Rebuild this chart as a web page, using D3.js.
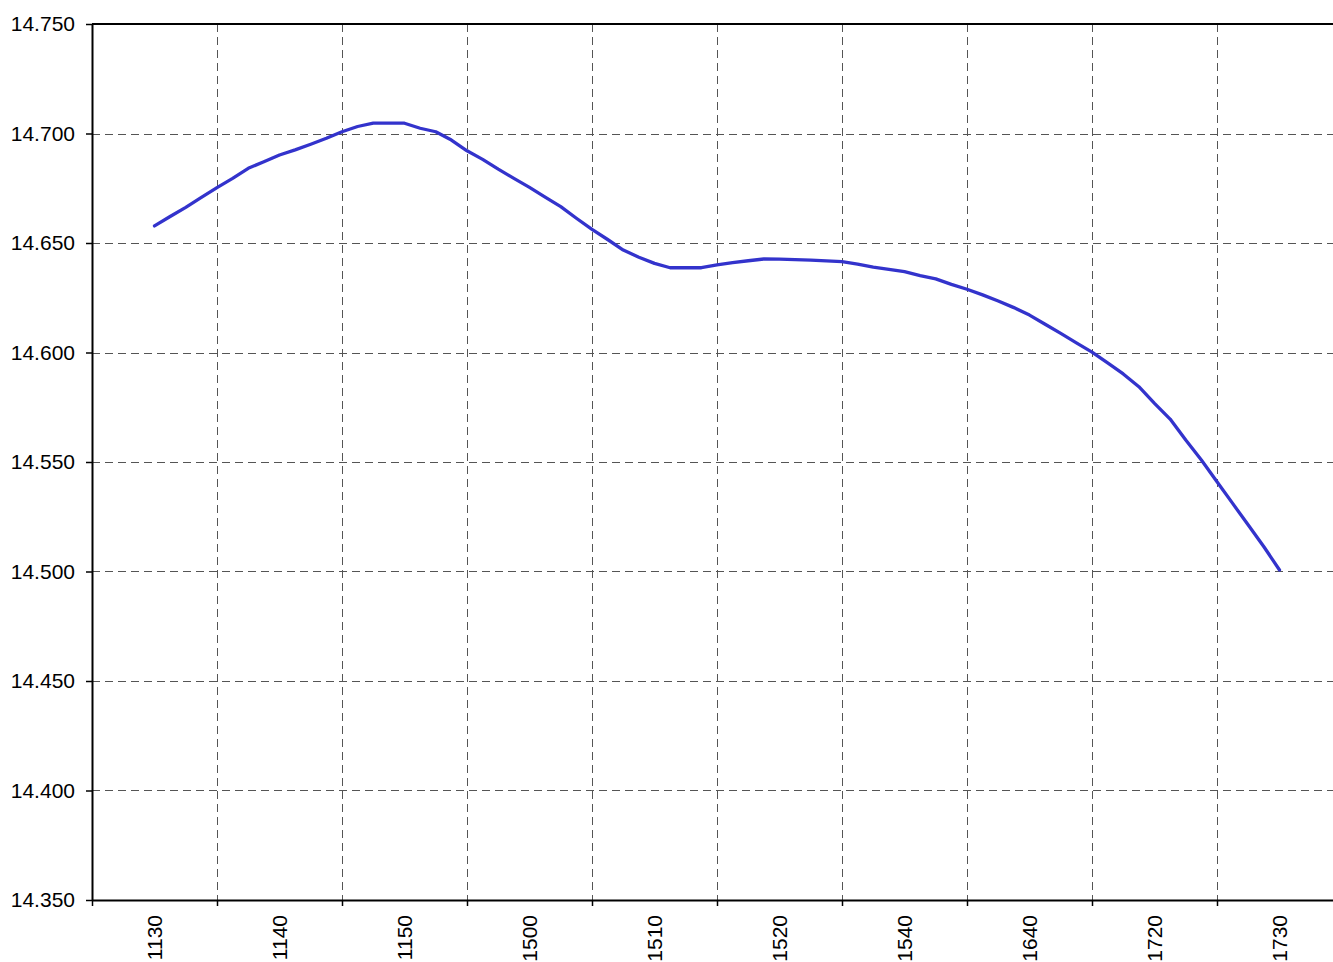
<!DOCTYPE html>
<html>
<head>
<meta charset="utf-8">
<script src="https://cdn.jsdelivr.net/npm/d3@7"></script>
<style>
  body { margin: 0; background: #fff; overflow: hidden; }
  svg text { font-family: "Liberation Sans", Arial, sans-serif; }
</style>
</head>
<body>
<svg id="chart" width="1333" height="962"></svg>
<script>
// ---- data ----
const categories = ["1130", "1140", "1150", "1500", "1510", "1520", "1540", "1640", "1720", "1730"];
const stepsPerCategory = 8; // readings between two category labels
const values = [
  14.6578, 14.6621, 14.6663, 14.6708, 14.6753, 14.6795, 14.6841, 14.6871,
  14.6902, 14.6925, 14.6951, 14.6978, 14.7008, 14.7032, 14.7047, 14.7047,
  14.7047, 14.7024, 14.7008, 14.6970, 14.6921, 14.6882, 14.6837, 14.6795,
  14.6754, 14.6709, 14.6666, 14.6613, 14.6562, 14.6516, 14.6468, 14.6435,
  14.6407, 14.6387, 14.6387, 14.6387, 14.6400, 14.6410, 14.6419, 14.6427,
  14.6426, 14.6424, 14.6422, 14.6418, 14.6415, 14.6404, 14.6390, 14.6380,
  14.6369, 14.6351, 14.6336, 14.6311, 14.6289, 14.6263, 14.6235, 14.6205,
  14.6171, 14.6129, 14.6087, 14.6044, 14.6002, 14.5953, 14.5902, 14.5844,
  14.5768, 14.5696, 14.5600, 14.5509, 14.5410, 14.5311, 14.5212, 14.5113,
  14.5007
];
const yTicks = [14.35, 14.40, 14.45, 14.50, 14.55, 14.60, 14.65, 14.70, 14.75];
const yDomain = [14.35, 14.75];

// ---- layout ----
const mLeft = 92, mTop = 24, plotRight = 1342, plotBottom = 900;
const fontSize = 21;

const svg = d3.select("#chart");

const x = d3.scaleLinear()
  .domain([-0.5, categories.length - 0.5])
  .range([mLeft, plotRight]);
const y = d3.scaleLinear()
  .domain(yDomain)
  .range([plotBottom, mTop]);

const gridColor = "#555";
const dash = "8,5";

// horizontal gridlines
svg.append("g")
  .selectAll("line")
  .data(yTicks.filter(t => t > yDomain[0] && t < yDomain[1]))
  .join("line")
  .attr("x1", mLeft).attr("x2", plotRight)
  .attr("y1", d => Math.round(y(d)) + 0.5).attr("y2", d => Math.round(y(d)) + 0.5)
  .attr("stroke", gridColor).attr("stroke-width", 1)
  .attr("stroke-dasharray", dash);

// vertical gridlines at category boundaries
const boundaries = d3.range(categories.length - 1).map(i => i + 0.5);
svg.append("g")
  .selectAll("line")
  .data(boundaries)
  .join("line")
  .attr("x1", d => Math.round(x(d)) + 0.5).attr("x2", d => Math.round(x(d)) + 0.5)
  .attr("y1", mTop).attr("y2", plotBottom)
  .attr("stroke", gridColor).attr("stroke-width", 1)
  .attr("stroke-dasharray", dash);

// top border
svg.append("line")
  .attr("x1", mLeft).attr("x2", plotRight)
  .attr("y1", mTop).attr("y2", mTop)
  .attr("stroke", "#000").attr("stroke-width", 2);

// data line
const line = d3.line()
  .x((d, i) => x(i / stepsPerCategory))
  .y(d => y(d));
svg.append("path")
  .datum(values)
  .attr("d", line)
  .attr("fill", "none")
  .attr("stroke", "#3333CC")
  .attr("stroke-width", 3.3)
  .attr("stroke-linejoin", "round")
  .attr("stroke-linecap", "round");

// left axis
const yAxis = d3.axisLeft(y)
  .tickValues(yTicks)
  .tickFormat(d3.format(".3f"))
  .tickSize(6)
  .tickSizeOuter(0)
  .tickPadding(11);
const gy = svg.append("g")
  .attr("transform", `translate(${mLeft},0)`)
  .call(yAxis);
gy.select(".domain").attr("stroke", "#000").attr("stroke-width", 2);
gy.selectAll(".tick line").attr("stroke", "#000").attr("stroke-width", 1.5);
gy.selectAll(".tick text").attr("font-size", fontSize).attr("fill", "#000")
  .attr("font-family", "'Liberation Sans', Arial, sans-serif");

// bottom axis: ticks at boundaries
const xTickAxis = d3.axisBottom(x)
  .tickValues([-0.5].concat(boundaries))
  .tickFormat("")
  .tickSize(6)
  .tickSizeOuter(0);
const gx = svg.append("g")
  .attr("transform", `translate(0,${plotBottom})`)
  .call(xTickAxis);
gx.select(".domain").attr("stroke", "#000").attr("stroke-width", 2);
gx.selectAll(".tick line").attr("stroke", "#000").attr("stroke-width", 1.5);

// category labels, rotated
const xLabelAxis = d3.axisBottom(x)
  .tickValues(d3.range(categories.length))
  .tickFormat(i => categories[i])
  .tickSize(0)
  .tickSizeOuter(0);
const gl = svg.append("g")
  .attr("transform", `translate(0,${plotBottom})`)
  .call(xLabelAxis);
gl.select(".domain").remove();
gl.selectAll(".tick text")
  .attr("font-size", fontSize)
  .attr("fill", "#000")
  .attr("font-family", "'Liberation Sans', Arial, sans-serif")
  .attr("text-anchor", "end")
  .attr("transform", "rotate(-90)")
  .attr("x", -15)
  .attr("y", 0)
  .attr("dy", "0.35em");
</script>
</body>
</html>
